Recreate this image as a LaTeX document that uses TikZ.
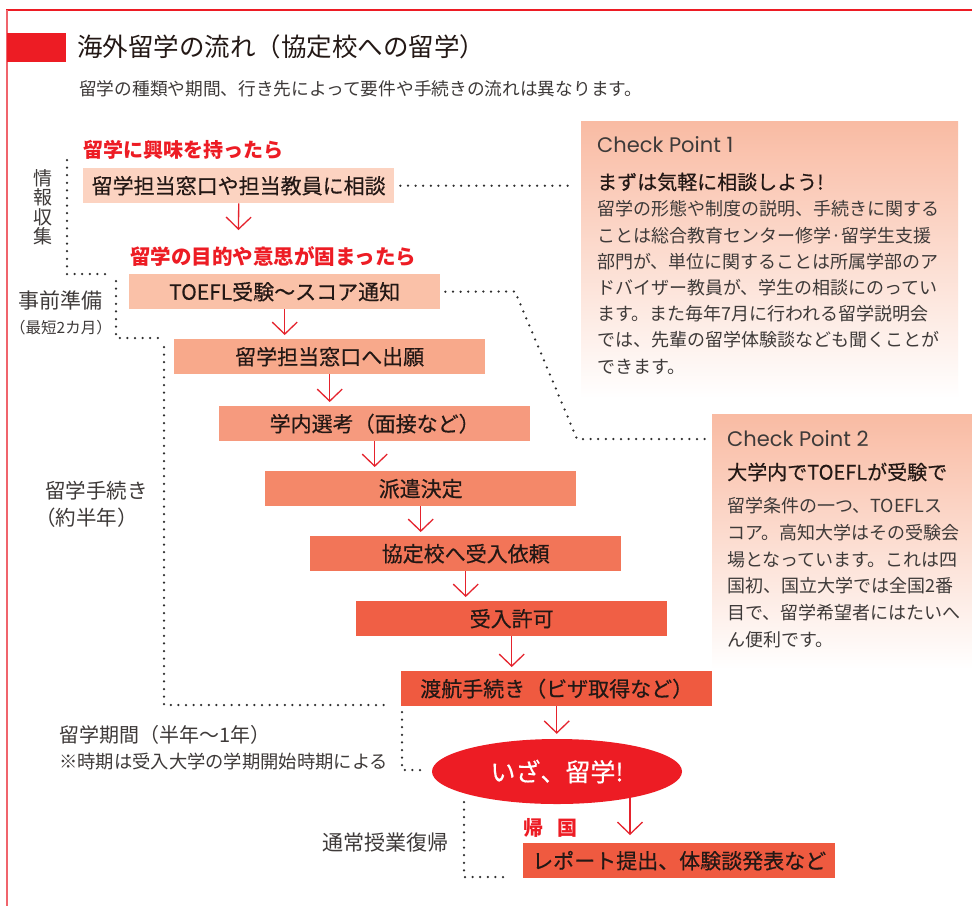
\documentclass[tikz,border=0pt]{standalone}
\usepackage{fontspec}
\setmainfont{Noto Sans CJK JP}
\newfontfamily\medfont{Noto Sans CJK JP}[FakeBold=0.45]
\newfontfamily\cpfont{Poppins}
\usetikzlibrary{arrows.meta,shapes.geometric}
\definecolor{myred}{HTML}{ED1C24}
\definecolor{arrred}{HTML}{E5232D}
\definecolor{frameleft}{HTML}{F0646C}
\definecolor{dotgray}{HTML}{2E2E2E}
\definecolor{labgray}{HTML}{3E3A39}
\definecolor{txtblack}{HTML}{231815}
\definecolor{cptop}{HTML}{F9BBA3}
\definecolor{bxa}{HTML}{FCD3C1}
\definecolor{bxb}{HTML}{FAC1A8}
\definecolor{bxc}{HTML}{F8A98B}
\definecolor{bxd}{HTML}{F69A7E}
\definecolor{bxe}{HTML}{F48869}
\definecolor{bxf}{HTML}{F27558}
\definecolor{bxg}{HTML}{F05F45}
\definecolor{bxh}{HTML}{EF5A40}
\tikzset{
  flowbox/.style={minimum width=311pt, minimum height=35pt, inner sep=0pt,
    anchor=north west, text=txtblack, font=\medfont\fontsize{21}{21}\selectfont},
  arr/.style={draw=arrred, line width=1.3pt, -{Straight Barb[length=12pt,width=25pt]}},
  dots/.style={draw=dotgray, line width=2.5pt, line cap=round, dash pattern=on 0pt off 7.6pt},
  lbl/.style={inner sep=0pt, anchor=west, text=labgray},
  redlbl/.style={inner sep=0pt, anchor=west, text=myred, font=\bfseries\fontsize{20}{20}\selectfont},
  cpbox/.style={anchor=north west, inner sep=0pt, top color=cptop, bottom color=white},
  cphead/.style={inner sep=0pt, anchor=west, text=labgray, font=\cpfont\fontsize{21}{21}\selectfont},
  cpsub/.style={inner sep=0pt, anchor=west, text=txtblack, font=\medfont\fontsize{20}{20}\selectfont},
}
\begin{document}
\begin{tikzpicture}[x=1pt,y=-1pt]
\useasboundingbox (0,0) rectangle (972,906);
\fill[white] (0,0) rectangle (972,906);
% frame
\draw[myred, line width=2pt] (6,10) -- (972,10);
\draw[frameleft, line width=2pt] (7,10) -- (7,906);
\fill[myred] (7,33) rectangle (66,62);
% title
\node[inner sep=0pt, anchor=west, text=txtblack, font=\fontsize{25.5}{25.5}\selectfont] (title) at (77,47) {海外留学の流れ（協定校への留学）};
\node[lbl, font=\fontsize{17.7}{17.7}\selectfont] (sub) at (79,89) {留学の種類や期間、行き先によって要件や手続きの流れは異なります。};

% check point boxes
\node[cpbox, minimum width=377pt, minimum height=277pt] (cp1) at (581,121) {};
\node[cpbox, minimum width=260pt, minimum height=255pt] (cp2) at (712,414) {};
\node[cphead] (cp1t) at (597,145) {Check Point 1};
\node[cpsub] (cp1h) at (597,182) {まずは気軽に相談しよう!};
\node[inner sep=0pt, anchor=base west, text width=360pt, align=left, text=labgray,
      font=\fontsize{18}{26.2}\selectfont] (cp1b) at (597,215.8)
  {留学の形態や制度の説明、手続きに関する\\ことは総合教育センター修学·留学生支援\\部門が、単位に関することは所属学部のア\\ドバイザー教員が、学生の相談にのってい\\ます。また毎年7月に行われる留学説明会\\では、先輩の留学体験談なども聞くことが\\できます。};
\node[cphead] (cp2t) at (727,439) {Check Point 2};
\node[cpsub] (cp2h) at (727,472) {大学内でTOEFLが受験で};
\node[inner sep=0pt, anchor=base west, text width=240pt, align=left, text=labgray,
      font=\fontsize{18}{26.7}\selectfont] (cp2b) at (727,512.8)
  {留学条件の一つ、TOEFLス\\コア。高知大学はその受験会\\場となっています。これは四\\国初、国立大学では全国2番\\目で、留学希望者にはたいへ\\ん便利です。};

% red labels
\node[redlbl] (l1) at (83,150) {留学に興味を持ったら};
\node[redlbl, font=\bfseries\fontsize{20.5}{20.5}\selectfont] (l2) at (130,257) {留学の目的や意思が固まったら};

% flow boxes
\node[flowbox, fill=bxa] (b1) at (83,168) {留学担当窓口や担当教員に相談};
\node[flowbox, fill=bxb] (b2) at (129,274) {TOEFL受験〜スコア通知};
\node[flowbox, fill=bxc] (b3) at (174,339) {留学担当窓口へ出願};
\node[flowbox, fill=bxd] (b4) at (219,406) {学内選考（面接など）};
\node[flowbox, fill=bxe] (b5) at (265,471) {派遣決定};
\node[flowbox, fill=bxf] (b6) at (310,536) {協定校へ受入依頼};
\node[flowbox, fill=bxg] (b7) at (356,601) {受入許可};
\node[flowbox, fill=bxh] (b8) at (401,671) {渡航手続き（ビザ取得など）};
\node[ellipse, fill=myred, minimum width=250pt, minimum height=65pt, inner sep=0pt,
      text=white, font=\medfont\fontsize{25}{25}\selectfont] (isa) at (557,771.5) {いざ、留学!};
\node[redlbl] (kikoku) at (523,828) {帰\hspace{14pt}国};
\node[flowbox, fill=bxh, minimum width=312pt] (fin) at (523,843) {レポート提出、体験談発表など};

% arrows
\coordinate (a1) at (238.5,230);
\draw[arr] (b1.south) -- (a1);
\draw[arr, shorten >=4pt] (b2.south) -- (b2.south |- b3.north);
\draw[arr, shorten >=4pt] (b3.south) -- (b3.south |- b4.north);
\draw[arr, shorten >=4pt] (b4.south) -- (b4.south |- b5.north);
\draw[arr, shorten >=4pt] (b5.south) -- (b5.south |- b6.north);
\draw[arr, shorten >=4pt] (b6.south) -- (b6.south |- b7.north);
\draw[arr, shorten >=4pt] (b7.south) -- (b7.south |- b8.north);
\draw[arr, shorten >=5pt] (b8.south) -- (b8.south |- isa.north);
\draw[arr, shorten >=8pt] (isa.-20) -- (isa.-20 |- fin.north);

% left labels
\node[inner sep=0pt, anchor=north, align=center, text=labgray,
      font=\fontsize{19}{19.5}\selectfont] (s1) at (43,169) {情\\報\\収\\集};
\node[lbl, font=\fontsize{21}{21}\selectfont] (s2) at (18,300) {事前準備};
\node[lbl, font=\fontsize{15.5}{15.5}\selectfont] (s2b) at (10,328) {（最短2カ月）};
\node[lbl, font=\fontsize{20.5}{20.5}\selectfont] (s3) at (45,491) {留学手続き};
\node[lbl, font=\fontsize{20.5}{20.5}\selectfont] (s3b) at (35,518) {（約半年）};
\node[lbl, font=\fontsize{20}{20}\selectfont] (s4) at (59,735) {留学期間（半年〜1年）};
\node[lbl, font=\fontsize{18.3}{18.3}\selectfont] (s4b) at (59,762) {※時期は受入大学の学期開始時期による};
\node[lbl, font=\fontsize{21}{21}\selectfont] (s5) at (322,843) {通常授業復帰};

% dotted staircase
\draw[dots] (67,160) -- (67,274) -- (112,274);
\draw[dots] (116,281) -- (116,338) -- (160,338);
\draw[dots] (164,347) -- (164,705) -- (384,705);
\draw[dots] (402,712) -- (402,770) -- (422,770);
\draw[dots] (464,802) -- (464,877) -- (506,877);

% dotted connectors to check points
\draw[dots, shorten <=6pt, shorten >=13pt] (b1.east) -- (cp1.west |- b1.east);
\coordinate (k1) at (515,291.5);
\coordinate (k2) at (577,439);
\draw[dots, shorten <=5pt, shorten >=7pt] (b2.east) -- (k1) -- (k2) -- (cp2.west |- k2);
\end{tikzpicture}
\end{document}
